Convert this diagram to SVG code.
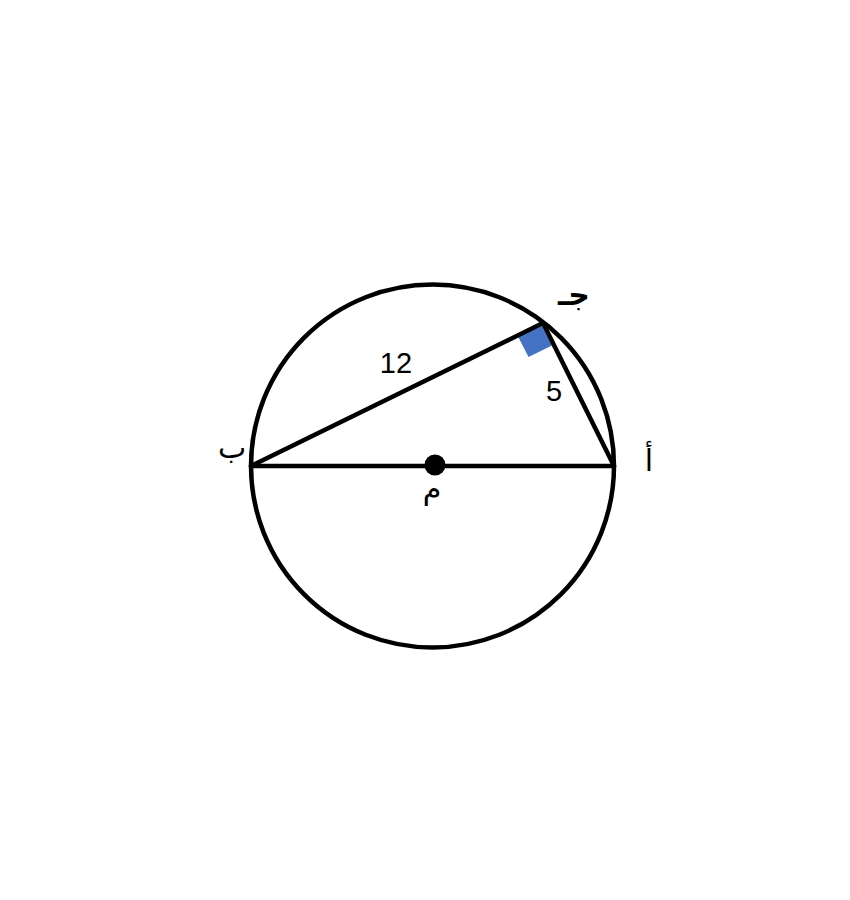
<svg xmlns="http://www.w3.org/2000/svg" width="850" height="900" viewBox="0 0 850 900">
<style>
.ln{stroke:#000;stroke-width:4.5;fill:none;stroke-linecap:round}
.num{font-family:"Liberation Sans",Arial,sans-serif;font-size:29px;fill:#000;text-anchor:middle}
.ar{font-family:"DejaVu Sans","Noto Sans",sans-serif;font-size:30px;fill:#000;text-anchor:middle}
</style>
<rect width="850" height="900" fill="#fff"/>
<g id="circle"><circle class="ln" cx="432.5" cy="466" r="181.5"/></g>
<g id="right-angle"><polygon points="541,324 517.5,335.5 528.5,357 552,345.5" fill="#4472C4"/></g>
<g id="connectors">
<line class="ln" x1="251" y1="466" x2="543" y2="323"/>
<line class="ln" x1="543" y1="323" x2="614" y2="466"/>
<line class="ln" x1="251" y1="466" x2="614" y2="466"/>
</g>
<g id="center"><circle cx="435" cy="465" r="10.5" fill="#000"/><text class="ar" x="432" y="499">م</text></g>
<g id="B"><text class="ar" x="232" y="458">ب</text></g>
<g id="A"><text class="ar" x="649" y="471" font-size="34">أ</text></g>
<g id="C"><text class="ar" x="574" y="305" font-weight="bold">جـ</text></g>
<text class="num" x="396" y="373">12</text>
<text class="num" x="554" y="401">5</text>
</svg>
